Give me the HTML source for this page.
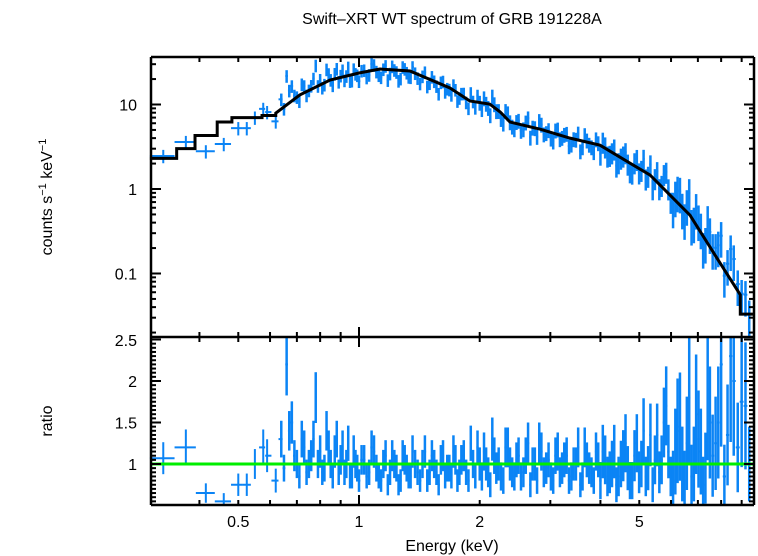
<!DOCTYPE html>
<html><head><meta charset="utf-8"><style>
body{margin:0;background:#fff}
svg{display:block;font-family:"Liberation Sans",sans-serif}
</style></head><body>
<svg id="chart" width="758" height="556" viewBox="0 0 758 556" xmlns="http://www.w3.org/2000/svg">
<text x="452" y="24" font-size="16" text-anchor="middle">Swift–XRT WT spectrum of GRB 191228A</text>
<text transform="translate(52,197) rotate(-90)" font-size="16" text-anchor="middle">counts s<tspan font-size="11" dy="-6">−1</tspan><tspan dy="6"> keV</tspan><tspan font-size="11" dy="-6">−1</tspan></text>
<text transform="translate(52,421) rotate(-90)" font-size="16" text-anchor="middle">ratio</text>
<text x="452" y="551" font-size="16" text-anchor="middle">Energy (keV)</text>
<g id="data-top"></g>
<g id="data-bot"></g>
<g id="model"></g>
<g id="axes"></g>
</svg>
<script>
const modelStepEdges=[0.301,0.351,0.390,0.443,0.482,0.573,0.62];
const modelStepVals=[2.3,3.0,4.3,6.2,7.0,7.4];
const modelE=[0.62,0.712,0.847,1.0,1.128,1.34,1.686,1.89,2.12,2.25,2.38,2.83,3.36,3.99,5.32,6.69,7.72,8.93];
const modelV=[7.9,13,19.5,23.6,26.3,24.9,15.7,11.0,10.1,8.15,6.2,5.1,4.0,3.3,1.46,0.49,0.166,0.056];
const modelTailVal=0.033;
const energies=[0.325,0.37,0.415,0.46,0.50,0.525,0.55,0.577,0.59,0.62,
0.64,0.66,0.68,0.70,0.72,0.74,0.76,0.78,0.80,0.82,0.84,0.86,0.88,0.90,0.92,0.94,0.96,0.98,1.00,1.03,1.06,1.09,1.12,1.15,1.18,1.21,1.24,1.27,1.30,1.33,1.36,1.40,1.44,1.48,1.52,1.56,1.60,1.64,1.68,1.72,1.76,1.80,1.85,1.90,1.95,2.00,2.05,2.10,2.15,2.20,2.26,2.32,2.38,2.44,2.50,2.57,2.64,2.71,2.78,2.85,2.93,3.01,3.09,3.17,3.25,3.34,3.43,3.52,3.61,3.70,3.80,3.90,4.00,4.11,4.22,4.33,4.44,4.56,4.68,4.80,4.93,5.06,5.19,5.33,5.47,5.61,5.76,5.91,6.07,6.23,6.40,6.57,6.75,6.93,7.12,7.31,7.50,7.75,8.0,8.3,8.6,9.0,9.4];
const ratios=[1.07,1.2,0.65,0.55,0.75,0.75,1.0,1.2,1.1,0.8,
1.3,2.2,1.5,1.0,1.3,0.9,1.1,1.8,1.15,0.95,1.2,0.85,1.3,1.05,0.9,1.25,0.85,1.0,0.8,1.05,0.9,1.15,0.85,1.0,0.75,1.1,0.95,0.8,1.05,0.85,1.15,0.9,1.0,0.8,1.1,0.9,1.05,0.85,0.95,1.15,0.8,1.05,0.9,1.25,0.85,1.0,1.15,0.9,1.3,0.95,0.85,1.2,1.0,0.85,1.1,0.9,1.25,1.0,0.8,1.15,0.95,0.85,1.1,0.9,1.05,0.8,1.0,1.2,0.85,1.05,0.9,1.15,0.8,1.05,0.9,1.15,0.85,1.1,0.95,0.8,1.25,1.0,0.85,1.35,1.05,0.9,1.5,1.15,0.8,1.4,1.0,1.25,0.85,1.6,1.15,0.95,1.5,1.25,2.2,1.35,2.0,1.75,1.0];
const energies2=[0.65,0.67,0.69,0.71,0.73,0.75,0.77,0.79,0.81,0.83,0.85,0.87,0.89,0.91,0.93,0.95,0.97,0.99,
1.015,1.045,1.075,1.105,1.135,1.165,1.195,1.225,1.255,1.285,1.315,1.345,
1.38,1.42,1.46,1.50,1.54,1.58,1.62,1.66,1.70,1.74,1.78,
1.825,1.875,1.925,1.975,2.025,2.075,2.125,2.175,
2.23,2.29,2.35,2.41,2.47,2.535,2.605,2.675,2.745,2.815,2.89,2.97,3.05,3.13,3.21,3.295,3.385,3.475,3.565,3.655,3.75,3.85,3.95,4.055,4.165,4.275,4.385,
4.50,4.62,4.74,4.865,4.995,5.125,5.26,5.40,5.54,5.685,5.835,5.99,6.15,6.315,6.485,6.66,6.84,7.025,7.215,7.405,7.62,7.87,8.15,8.45,8.8,9.2];
const ratios2=[0.95,1.4,1.1,0.85,1.2,1.0,1.3,1.0,0.9,1.4,1.0,1.15,0.9,1.2,1.0,0.85,1.15,0.95,
1.05,0.85,1.2,0.95,0.8,1.1,0.9,1.0,0.75,1.1,0.95,0.85,
1.0,0.8,1.15,0.9,1.0,0.75,1.1,0.95,0.85,1.05,0.9,
1.1,0.8,1.0,1.2,0.85,1.0,0.75,1.1,
1.0,0.8,1.2,0.9,1.05,0.85,1.1,0.75,1.0,1.25,0.9,1.05,0.8,1.15,0.95,1.1,0.85,1.0,0.75,1.2,0.95,0.8,1.05,1.15,0.85,1.0,0.75,
1.0,1.25,0.8,1.1,0.9,1.4,0.95,0.75,1.35,1.05,1.7,0.85,1.15,1.45,0.8,1.8,1.0,1.3,0.75,1.9,1.1,1.5,0.85,2.3,1.2,1.7];
const yTicksTop=[10,1,0.1];
const yTickLabelsTop=["10","1","0.1"];
const yTicksBot=[2.5,2,1.5,1];
const yTickLabelsBot=["2.5","2","1.5","1"];
const xTickLabels=[0.5,1,2,5];

const L=151,R=754,T=57,MID=337,B=505;
const xs=e=>359+401*Math.log10(e);
const yTop=v=>189-84.5*Math.log10(v);
const yBot=r=>464-83*(r-1);
function modelAt(e){
  if(e<modelE[0]){for(let i=0;i<modelStepVals.length;i++){if(e<modelStepEdges[i+1])return modelStepVals[i];}return modelStepVals[modelStepVals.length-1];}
  if(e>=modelE[modelE.length-1])return modelTailVal;
  for(let i=0;i<modelE.length-1;i++){if(e<=modelE[i+1]){const t=(Math.log(e)-Math.log(modelE[i]))/(Math.log(modelE[i+1])-Math.log(modelE[i]));return Math.exp(Math.log(modelV[i])+t*(Math.log(modelV[i+1])-Math.log(modelV[i])));}}
}
function relErr(e){return e<0.63?0.18:e<2?0.17:e<4?0.2:e<6?0.28:0.45;}
const NS="http://www.w3.org/2000/svg";
function ln(g,x1,y1,x2,y2,c,w){const l=document.createElementNS(NS,'line');l.setAttribute('x1',x1);l.setAttribute('y1',y1);l.setAttribute('x2',x2);l.setAttribute('y2',y2);l.setAttribute('stroke',c);l.setAttribute('stroke-width',w);g.appendChild(l);return l;}
function clampT(y){return Math.max(T,Math.min(MID,y));}
function clampB(y){return Math.max(MID,Math.min(B,y));}
const gt=document.getElementById('data-top'),gb=document.getElementById('data-bot'),gm=document.getElementById('model'),ga=document.getElementById('axes');
const BLUE="#0b84f5";
const pts0=[];
energies.forEach((e,i)=>pts0.push([e,ratios[i]]));
energies2.forEach((e,i)=>pts0.push([e,ratios2[i]]));
pts0.sort((a,b)=>a[0]-b[0]);
for(let i=0;i<pts0.length;i++){
  const e=pts0[i][0],r=pts0[i][1];
  const lo=i==0?0.301:Math.sqrt(pts0[i-1][0]*e);
  const hi=i==pts0.length-1?9.7:Math.sqrt(pts0[i+1][0]*e);
  const m=modelAt(e),er=relErr(e);
  const c=r*m;
  const xc=xs(e);
  const w=e<0.63?2:2.5;
  const g1=document.createElementNS(NS,'g');
  
  
  ln(g1,xs(lo),yTop(c),xs(hi),yTop(c),BLUE,2);
  ln(g1,xc,clampT(yTop(c*(1+er))),xc,clampT(yTop(Math.max(c*(1-er),1e-3))),BLUE,w);
  gt.appendChild(g1);
  const g2=document.createElementNS(NS,'g');
  
  
  ln(g2,xs(lo),clampB(yBot(r)),xs(hi),clampB(yBot(r)),BLUE,2);
  ln(g2,xc,clampB(yBot(r*(1+er))),xc,clampB(yBot(r*(1-er))),BLUE,w);
  gb.appendChild(g2);
}
let pts=[];
for(let i=0;i<modelStepVals.length;i++){pts.push([xs(modelStepEdges[i]),yTop(modelStepVals[i])]);pts.push([xs(modelStepEdges[i+1]),yTop(modelStepVals[i])]);}
for(let i=0;i<modelE.length;i++)pts.push([xs(modelE[i]),yTop(modelV[i])]);
pts.push([xs(modelE[modelE.length-1]),yTop(modelTailVal)]);
pts.push([R,yTop(modelTailVal)]);
const pl=document.createElementNS(NS,'polyline');
pl.setAttribute('points',pts.map(p=>p.join(',')).join(' '));
pl.setAttribute('fill','none');pl.setAttribute('stroke','#000');pl.setAttribute('stroke-width','3');


gm.appendChild(pl);
const ul=ln(gm,L,yBot(1),R,yBot(1),'#00ee00',3);


[[L,T,R,T],[L,T,L,B],[R,T,R,B],[L,B,R,B],[L,MID,R,MID]].forEach(a=>ln(ga,a[0],a[1],a[2],a[3],'#000',2.5));
const minorE=[0.4,0.5,0.6,0.7,0.8,0.9,2,3,4,5,6,7,8,9];
minorE.forEach(e=>{const x=xs(e);ln(ga,x,T,x,T+5,'#000',2);ln(ga,x,MID-5,x,MID+5,'#000',2);ln(ga,x,B,x,B-5,'#000',2);});
[1].forEach(e=>{const x=xs(e);ln(ga,x,T,x,T+10,'#000',2);ln(ga,x,MID-10,x,MID+10,'#000',2);ln(ga,x,B,x,B-10,'#000',2);});
xTickLabels.forEach(v=>{const t=document.createElementNS(NS,'text');t.setAttribute('x',xs(v));t.setAttribute('y',527);t.setAttribute('font-size','16');t.setAttribute('text-anchor','middle');t.textContent=String(v);ga.appendChild(t);});
for(let d=-2;d<=1;d++){for(let k=1;k<10;k++){const v=k*Math.pow(10,d);const y=yTop(v);if(y<T||y>MID)continue;const len=k==1?10:5;ln(ga,L,y,L+len,y,'#000',2);ln(ga,R,y,R-len,y,'#000',2);}}
yTicksTop.forEach((v,i)=>{const t=document.createElementNS(NS,'text');t.setAttribute('x',137);t.setAttribute('y',yTop(v)+6);t.setAttribute('font-size','16');t.setAttribute('text-anchor','end');t.textContent=yTickLabelsTop[i];ga.appendChild(t);});
for(let r=0.55;r<=2.5;r+=0.05){const y=yBot(r);if(y<MID||y>B)continue;const major=Math.abs(r*2-Math.round(r*2))<0.01;const len=major?10:5;ln(ga,L,y,L+len,y,'#000',2);ln(ga,R,y,R-len,y,'#000',2);}
yTicksBot.forEach((v,i)=>{const t=document.createElementNS(NS,'text');t.setAttribute('x',137);t.setAttribute('y',Math.max(yBot(v)+6,346));t.setAttribute('font-size','16');t.setAttribute('text-anchor','end');t.textContent=yTickLabelsBot[i];ga.appendChild(t);});
</script>
</body></html>
